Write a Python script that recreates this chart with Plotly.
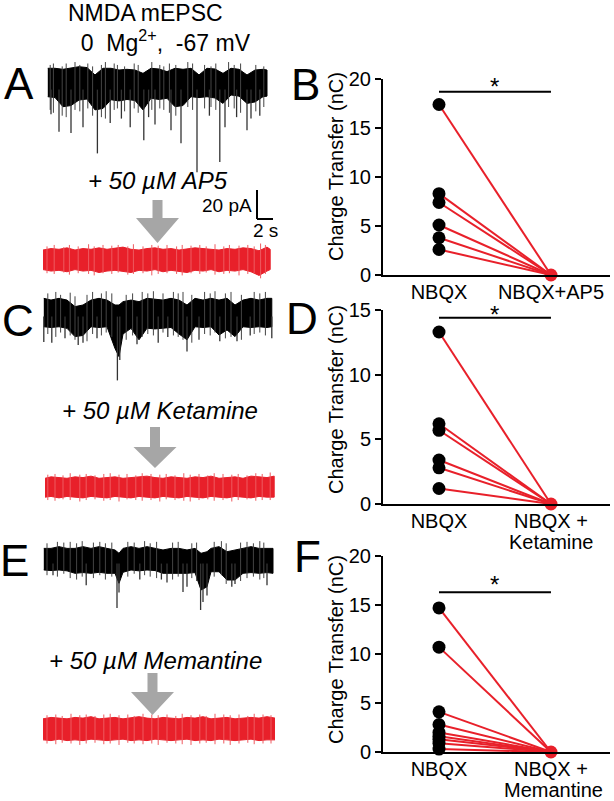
import plotly.graph_objects as go

# ---------------- data ----------------
# Panel traces (time in s, current in pA relative to holding level)
tA = [0.6, 1.5, 2.5, 3.5, 4.5, 5.5, 6.5, 7.5, 8.5, 9.5, 10.5, 11.5, 12.5, 13.5, 14.5,
      15.5, 16.5, 17.5, 18.5, 19.5, 20.5, 21.5, 22.5, 23.5, 24.5, 25.5, 26.5, 27.5, 28.0]
topA = [6.7, 6.7, 6.0, 6.7, 7.8, 7.2, 2.1, 6.7, 6.7, 5.5, 6.0, 5.5, 3.2, 6.7, 6.2,
        4.4, 6.7, 6.0, 6.7, 2.1, 6.7, 6.2, 3.2, 6.7, 6.0, 2.1, 5.5, 6.0, 5.5]
botA = [-12.9, -13.5, -19.8, -19.0, -15.2, -14.5, -22.0, -21.0, -15.0, -15.8, -14.8, -15.5, -22.0, -14.0, -14.8,
        -14.0, -19.8, -19.0, -12.9, -13.5, -12.9, -13.8, -17.5, -11.7, -12.5, -17.5, -16.5, -12.9, -12.5]
spkA_t = [1.0, 2.0, 3.5, 5.0, 6.8, 8.4, 9.8, 10.9, 12.6, 13.2, 14.0, 16.0, 17.25, 19.25, 20.8, 22.1, 22.75, 24.2, 25.5, 26.0, 27.1]
spkA_a = [-25, -37, -38, -34, -52, -31, -28, -34, -43, -27, -32, -36, -45, -65, -26, -58, -34, -27, -36, -28, -26]
frA_t = [0.9, 1.3, 2.4, 2.9, 4.0, 4.6, 5.6, 6.2, 7.3, 7.8, 8.9, 9.3, 10.2, 11.4, 11.9, 13.6,
         14.6, 15.1, 15.8, 16.6, 18.1, 18.7, 20.2, 21.0, 21.6, 23.2, 23.9, 24.7, 26.6, 27.6]
frA_hi = [9, 10, 8, 10, 11, 9, 10, 8, 9, 11, 10, 9, 8, 10, 9, 11,
          9, 8, 10, 9, 11, 10, 9, 8, 10, 11, 9, 10, 9, 8]
frA_lo = [-22, -24, -26, -27, -22, -23, -21, -26, -27, -28, -22, -21, -23, -21, -24, -22,
          -21, -22, -24, -26, -20, -22, -21, -20, -22, -20, -21, -24, -23, -20]

tRA = [0, 1, 2, 3, 4, 5, 6, 7, 8, 9, 10, 11, 12, 13, 14, 15, 16, 17, 18, 19,
       20, 21, 22, 23, 24, 25, 26, 27, 28, 28.4]
topRA = [5.5, 6.5, 6.0, 7.0, 5.5, 6.5, 6.0, 7.0, 6.0, 6.5, 7.5, 6.0, 5.5, 6.5, 7.0,
         6.0, 6.5, 5.5, 6.0, 7.0, 6.5, 6.0, 5.5, 6.5, 6.0, 7.0, 6.5, 5.0, 7.5, 6.0]
botRA = [-8.0, -9.0, -8.5, -9.5, -8.0, -9.0, -8.5, -10.0, -9.0, -8.5, -9.0, -10.0, -8.5, -9.0, -8.0,
         -9.5, -8.5, -9.0, -10.0, -8.5, -9.0, -8.0, -9.5, -8.5, -9.0, -8.0, -9.5, -12.0, -9.0, -8.0]
frRA_t = [0.5, 1.4, 2.6, 3.3, 4.4, 5.7, 6.4, 7.5, 8.6, 9.4, 10.6, 11.3, 12.5, 13.6, 14.4,
          15.5, 16.7, 17.4, 18.5, 19.6, 20.4, 21.5, 22.6, 23.3, 24.5, 25.6, 26.4, 27.2, 27.8]
frRA_hi = [8, 9, 7.5, 9, 8, 9.5, 8, 9, 8.5, 9, 8, 9.5, 8, 9, 8.5,
           9, 8, 9, 8.5, 9, 8, 9.5, 8, 9, 8.5, 9, 8, 10, 9]
frRA_lo = [-10.5, -11, -10, -11.5, -10.5, -11, -12, -10.5, -11, -10, -11.5, -11, -10.5, -12, -11,
           -10.5, -11, -12, -10.5, -11, -10, -11.5, -11, -10.5, -12, -11, -10.5, -14, -11]

tC = [0.1, 1, 2, 3, 4, 5, 6, 7, 8, 9, 9.5, 10, 11, 12, 13, 14, 15, 16, 17, 18,
      19, 20, 21, 22, 23, 24, 25, 26, 27, 28, 28.6]
topC = [4.6, 3.4, 4.6, 3.4, -1.1, 0.0, 3.4, 4.6, 3.4, 0.0, 0.0, 2.3, 3.4, 2.3, 4.6, 4.0,
        3.4, 4.6, 3.4, 0.0, 4.6, 3.4, 4.6, 3.4, 4.6, 0.0, 3.4, 4.6, 3.4, 4.6, 4.6]
botC = [-15.0, -15.5, -15.0, -16.1, -21.8, -21.0, -15.0, -15.5, -15.0, -30.0, -35.6, -20.0, -16.1, -24.0, -16.0, -16.5,
        -16.0, -15.5, -20.0, -24.0, -15.0, -15.5, -15.0, -20.7, -17.2, -21.8, -15.0, -15.5, -15.0, -15.5, -15.0]
spkC_t = [0.1, 1.1, 2.75, 4.4, 5.0, 6.75, 9.3, 9.6, 11.75, 14.4, 15.6, 18.0, 19.5, 22.1, 24.25, 25.9, 28.6]
spkC_a = [-25.5, -26, -23, -27.6, -26, -23, -52, -38, -27, -26, -22, -32, -24, -25, -25, -21, -23]
frC_t = [0.6, 1.6, 2.2, 3.4, 4.0, 5.5, 6.2, 7.3, 7.9, 8.6, 10.4, 11.2, 12.4, 13.1, 13.8,
         15.0, 16.3, 16.9, 17.5, 18.6, 20.2, 20.9, 21.5, 22.8, 23.5, 24.8, 26.4, 27.1, 27.8]
frC_hi = [8, 9, 7, 8.5, 6, 7, 9, 8, 9.5, 8, 7, 8, 9, 8, 9.5,
          8, 9, 8, 9, 7, 9, 8, 9.5, 8, 9, 7, 9, 8, 9]
frC_lo = [-20, -22, -19, -21, -24, -25, -20, -21, -19, -22, -24, -21, -22, -20, -21,
          -19, -21, -22, -24, -26, -20, -21, -19, -23, -22, -24, -20, -19, -21]

tRC = [0.25, 1, 2, 3, 4, 5, 6, 7, 8, 9, 10, 11, 12, 13, 14, 15, 16, 17, 18, 19,
       20, 21, 22, 23, 24, 25, 26, 27, 28, 28.9]
topRC = [6.0, 7.0, 6.5, 6.0, 7.0, 6.5, 7.5, 6.0, 6.5, 7.0, 6.0, 6.5, 7.0, 7.5, 6.5,
         6.0, 7.0, 6.5, 6.0, 7.0, 6.5, 7.5, 6.0, 6.5, 7.0, 6.0, 7.5, 7.0, 6.5, 7.5]
botRC = [-7.0, -6.5, -7.5, -6.5, -7.0, -7.5, -6.5, -7.0, -7.5, -6.5, -7.0, -7.5, -6.5, -7.0, -7.5,
         -6.5, -7.0, -7.5, -6.5, -7.0, -7.5, -6.5, -7.0, -7.5, -6.5, -7.0, -7.5, -6.5, -7.0, -7.0]
frRC_t = [0.6, 1.5, 2.5, 3.4, 4.6, 5.4, 6.5, 7.6, 8.4, 9.5, 10.5, 11.6, 12.4, 13.5, 14.6,
          15.4, 16.5, 17.6, 18.4, 19.5, 20.6, 21.4, 22.5, 23.6, 24.4, 25.5, 26.6, 27.4, 28.4]
frRC_hi = [8.5, 9, 8, 9.5, 8.5, 9, 8, 9, 9.5, 8.5, 9, 8, 9.5, 9, 8.5,
           9, 8, 9.5, 8.5, 9, 8, 9.5, 9, 8.5, 9, 8, 9.5, 9, 10]
frRC_lo = [-9, -9.5, -8.5, -9, -10, -9, -8.5, -9.5, -9, -10, -8.5, -9, -9.5, -9, -10,
           -8.5, -9, -9.5, -10, -9, -8.5, -9.5, -9, -10, -9, -8.5, -9.5, -9, -9]

tE = [0.1, 1, 2, 3, 4, 5, 6, 7, 8, 9, 9.5, 10, 11, 12, 13, 14, 15, 16, 17, 18,
      19, 19.75, 20.5, 21, 22, 23, 24, 25, 26, 27, 28, 28.75]
topE = [2.5, 2.5, 3.7, 2.5, 2.5, 3.7, 2.5, 3.7, 2.5, 1.4, -0.9, 2.5, 3.7, 2.5, 3.7, 2.5,
        1.4, 2.5, 2.5, 1.4, 2.5, -0.9, 0.2, 2.5, 3.7, 0.2, 1.4, 2.5, 3.7, 2.5, 2.5, 2.5]
botE = [-12.4, -12.8, -12.4, -13.0, -14.7, -14.2, -14.7, -14.0, -14.7, -14.7, -21.6, -14.0, -12.4, -13.0, -12.4, -12.8,
        -14.7, -14.2, -14.7, -14.7, -14.2, -26.2, -24.0, -13.6, -13.6, -19.3, -19.3, -14.7, -14.2, -14.7, -14.2, -14.7]
spkE_t = [1.25, 5.4, 9.25, 9.5, 12.1, 14.8, 15.5, 17.5, 18.0, 19.7, 20.0, 20.5, 23.6, 24.0, 28.0]
spkE_a = [-16, -23, -38.6, -28, -19, -19, -21, -27.6, -24, -40, -34.5, -30, -24, -22, -23]
frE_t = [0.5, 1.8, 2.6, 3.4, 4.2, 4.9, 6.3, 7.1, 7.8, 8.6, 10.6, 11.4, 12.7, 13.4, 14.2,
         16.2, 16.9, 18.6, 19.2, 21.4, 22.3, 22.9, 24.7, 25.5, 26.3, 27.1, 27.6]
frE_hi = [6, 7, 6.5, 7, 6, 7.5, 6.5, 7, 6, 6.5, 7, 6.5, 7.5, 6, 7,
          6.5, 7, 6, 6.5, 7, 7.5, 6, 6.5, 7, 6, 7.5, 6.5]
frE_lo = [-16, -17, -15, -18, -19, -17, -18, -16, -19, -17, -17, -15, -16, -17, -18,
          -19, -17, -18, -20, -17, -16, -22, -20, -18, -17, -19, -18]

tRE = [0, 1, 2, 3, 4, 5, 6, 7, 8, 9, 10, 11, 12, 13, 14, 15, 16, 17, 18, 19,
       20, 21, 22, 23, 24, 25, 26, 27, 28, 29]
topRE = [7.0, 8.0, 7.5, 7.0, 8.0, 7.5, 8.5, 7.0, 7.5, 8.0, 7.0, 7.5, 8.5, 7.5, 7.0,
         8.0, 7.5, 7.0, 8.0, 7.5, 8.5, 7.0, 7.5, 8.0, 7.0, 7.5, 8.0, 7.5, 8.5, 7.5]
botRE = [-7.5, -8.0, -7.0, -8.0, -7.5, -8.0, -7.0, -7.5, -8.0, -7.5, -7.0, -8.0, -7.5, -8.0, -7.0,
         -7.5, -8.0, -7.5, -7.0, -8.0, -7.5, -8.0, -7.0, -7.5, -8.0, -7.5, -7.0, -8.0, -7.5, -7.5]
frRE_t = [0.5, 1.6, 2.4, 3.5, 4.6, 5.4, 6.5, 7.6, 8.4, 9.5, 10.6, 11.4, 12.5, 13.6, 14.4,
          15.5, 16.6, 17.4, 18.5, 19.6, 20.4, 21.5, 22.6, 23.4, 24.5, 25.6, 26.4, 27.5, 28.5]
frRE_hi = [9.5, 10, 9, 10.5, 9.5, 10, 9, 10, 10.5, 9.5, 10, 9, 10.5, 10, 9.5,
           10, 9, 10.5, 9.5, 10, 9, 10.5, 10, 9.5, 10, 9, 10.5, 10, 9.5]
frRE_lo = [-10, -10.5, -9.5, -10, -11, -10, -9.5, -10.5, -10, -11, -9.5, -10, -10.5, -10, -11,
           -9.5, -10, -10.5, -11, -10, -9.5, -10.5, -10, -11, -10, -9.5, -10.5, -10, -10]

# Charge transfer (nC)
B_nbqx = [17.4, 8.3, 7.4, 5.1, 3.8, 2.6]
B_drug = [0, 0, 0, 0, 0, 0]
D_nbqx = [13.3, 6.2, 5.7, 3.4, 2.8, 1.2]
D_drug = [0, 0, 0, 0, 0, 0]
F_nbqx = [14.7, 10.7, 4.1, 2.8, 2.0, 1.6, 1.3, 0.9, 0.3]
F_drug = [0, 0, 0, 0, 0, 0, 0, 0, 0]

cond_B = ["NBQX", "NBQX+AP5"]
cond_D = ["NBQX", "NBQX +"]
cond_F = ["NBQX", "NBQX +"]
drug_D = "Ketamine"
drug_F = "Memantine"
yticks_B = [0, 5, 10, 15, 20]
yticks_D = [0, 5, 10, 15]
yticks_F = [0, 5, 10, 15, 20]

# ---------------- styling / layout ----------------
W, H = 614, 801
RED = "#e8202a"
BLACK = "#000000"
GRAY = "#a6a6a6"
FONT = "Liberation Sans, Arial, sans-serif"
PX_PER_PA = 1.45


def fx(px):
    return px / W


def fy(py):
    return 1 - py / H


fig = go.Figure()
layout = dict(width=W, height=H, margin=dict(l=0, r=0, t=0, b=0, pad=0),
              paper_bgcolor="white", plot_bgcolor="rgba(0,0,0,0)",
              showlegend=False, font=dict(family=FONT, color="black"))

# trace axes: (index, top px, bottom px, baseline px)
trace_axes = [(1, 55, 180, 78), (2, 180, 285, 258), (3, 285, 400, 305),
              (4, 400, 510, 487), (5, 535, 630, 552), (6, 630, 760, 729)]
for i, top, bot, y0 in trace_axes:
    xn = "xaxis" if i == 1 else f"xaxis{i}"
    yn = "yaxis" if i == 1 else f"yaxis{i}"
    layout[xn] = dict(domain=[fx(43), fx(275)], range=[0, 29], visible=False, automargin=False,
                      anchor=f"y{i}" if i > 1 else "y", fixedrange=True)
    layout[yn] = dict(domain=[fy(bot), fy(top)], automargin=False,
                      range=[-(bot - y0) / PX_PER_PA, (y0 - top) / PX_PER_PA],
                      visible=False, anchor=f"x{i}" if i > 1 else "x", fixedrange=True)


def ax(i):
    return ("x" if i == 1 else f"x{i}"), ("y" if i == 1 else f"y{i}")


def band(i, t, top, bot, color):
    xa, ya = ax(i)
    fig.add_trace(go.Scatter(x=t + t[::-1], y=top + bot[::-1], fill="toself",
                             fillcolor=color, mode="lines",
                             line=dict(color=color, width=1),
                             xaxis=xa, yaxis=ya, hoverinfo="skip"))


def segs(i, ts, his, los, color, width):
    xa, ya = ax(i)
    xs, ys = [], []
    for t, h, l in zip(ts, his, los):
        xs += [t, t, None]
        ys += [h, l, None]
    fig.add_trace(go.Scatter(x=xs, y=ys, mode="lines",
                             line=dict(color=color, width=width),
                             xaxis=xa, yaxis=ya, hoverinfo="skip"))


band(1, tA, topA, botA, BLACK)
segs(1, frA_t, frA_hi, frA_lo, "#444444", 1)
segs(1, spkA_t, [-8] * len(spkA_t), spkA_a, "#333333", 1.3)
band(2, tRA, topRA, botRA, RED)
segs(2, frRA_t, frRA_hi, frRA_lo, "#ee5a60", 1)
band(3, tC, topC, botC, BLACK)
segs(3, frC_t, frC_hi, frC_lo, "#444444", 1)
segs(3, spkC_t, [-8] * len(spkC_t), spkC_a, "#333333", 1.3)
band(4, tRC, topRC, botRC, RED)
segs(4, frRC_t, frRC_hi, frRC_lo, "#ee5a60", 1)
band(5, tE, topE, botE, BLACK)
segs(5, frE_t, frE_hi, frE_lo, "#444444", 1)
segs(5, spkE_t, [-8] * len(spkE_t), spkE_a, "#333333", 1.3)
band(6, tRE, topRE, botRE, RED)
segs(6, frRE_t, frRE_hi, frRE_lo, "#ee5a60", 1)

shapes = []
# scale bar (20 pA, 2 s) in red-A trace axis
shapes.append(dict(type="line", xref="x2", yref="y2", x0=26.75, x1=26.75, y0=26.9, y1=26.9 + 20,
                   line=dict(color="black", width=2)))
shapes.append(dict(type="line", xref="x2", yref="y2", x0=26.75, x1=26.75 + 2, y0=26.9, y1=26.9,
                   line=dict(color="black", width=2)))


def P(x, y):
    return f"{fx(x):.5f},{fy(y):.5f}"


def arrow(cx, top, neck, tip, sh=5, hh=21.5):
    path = ("M " + P(cx - sh, top) + " L " + P(cx + sh, top) + " L " + P(cx + sh, neck) +
            " L " + P(cx + hh, neck) + " L " + P(cx, tip) + " L " + P(cx - hh, neck) +
            " L " + P(cx - sh, neck) + " Z")
    shapes.append(dict(type="path", xref="paper", yref="paper", path=path,
                       fillcolor=GRAY, line=dict(color=GRAY, width=0)))


arrow(157.5, 200, 218, 243)
arrow(155, 427, 447, 468)
arrow(152.5, 673, 692, 715)

# scatter panels
panels = [(7, 79, 275, 20, B_nbqx, B_drug, cond_B, yticks_B, 18.7),
          (8, 310, 504, 15, D_nbqx, D_drug, cond_D, yticks_D, 14.4),
          (9, 556, 752, 20, F_nbqx, F_drug, cond_F, yticks_F, 16.3)]
for i, top, bot, ymax, pre, post, cats, yt, sig in panels:
    layout[f"xaxis{i}"] = dict(domain=[fx(383), fx(610)], range=[-0.5, 1.527], automargin=False,
                               anchor=f"y{i}", showline=True, linecolor="black", linewidth=2,
                               ticks="", tickvals=[0, 1], ticktext=cats, showgrid=False,
                               zeroline=False, ticklabelstandoff=-2,
                               tickfont=dict(size=20, family=FONT, color="black"), fixedrange=True)
    layout[f"yaxis{i}"] = dict(domain=[fy(bot), fy(top)], range=[0, ymax], automargin=False,
                               anchor=f"x{i}", showline=True, linecolor="black", linewidth=2,
                               ticks="outside", ticklen=6, tickwidth=1.5, tickcolor="black",
                               tickvals=yt, showgrid=False, zeroline=False,
                               tickfont=dict(size=20, family=FONT, color="black"), fixedrange=True)
    xs, ys = [], []
    for a, b in zip(pre, post):
        xs += [0, 1, None]
        ys += [a, b, None]
    fig.add_trace(go.Scatter(x=xs, y=ys, mode="lines", line=dict(color=RED, width=2),
                             xaxis=f"x{i}", yaxis=f"y{i}", cliponaxis=False, hoverinfo="skip"))
    fig.add_trace(go.Scatter(x=[0] * len(pre), y=pre, mode="markers",
                             marker=dict(color=BLACK, size=13, line=dict(width=0)),
                             xaxis=f"x{i}", yaxis=f"y{i}", cliponaxis=False))
    fig.add_trace(go.Scatter(x=[1], y=[post[0]], mode="markers",
                             marker=dict(color=RED, size=13, line=dict(width=0)),
                             xaxis=f"x{i}", yaxis=f"y{i}", cliponaxis=False))
    shapes.append(dict(type="line", xref=f"x{i}", yref=f"y{i}", x0=0, x1=1, y0=sig, y1=sig,
                       line=dict(color="black", width=1.8)))

annotations = []


def txt(x, y, s, size, italic=False, xanchor="center", angle=0, align="center"):
    annotations.append(dict(xref="paper", yref="paper", x=fx(x), y=fy(y), text=s,
                            showarrow=False, xanchor=xanchor, yanchor="middle",
                            textangle=angle, align=align,
                            font=dict(size=size, family=FONT, color="black",
                                      style="italic" if italic else "normal")))


# panel letters
for L, x, y in [("A", 19, 83), ("B", 305, 84), ("C", 18, 320),
                ("D", 302, 318), ("E", 14, 560), ("F", 307, 556)]:
    txt(x, y, L, 44)

# two-line header (left-aligned block, as in the reference)
txt(66, 28, "NMDA mEPSC<br>\u00a0 0\u00a0 Mg<sup>2+</sup>,\u00a0 -67 mV", 23,
    xanchor="left", align="left")
txt(158, 180, "+ 50 µM AP5", 24, italic=True)
txt(160, 410, "+ 50 µM Ketamine", 24, italic=True)
txt(155, 660, "+ 50 µM Memantine", 24, italic=True)
txt(254, 206, "20 pA", 19, xanchor="right")
txt(265.5, 230, "2 s", 19)

# second line of the drug tick labels
txt(551, 542, drug_D, 20)
txt(553, 790, drug_F, 20)

# stars
txt(494, 86.5, "*", 24)
txt(494, 314, "*", 24)
txt(494, 584, "*", 24)

# y titles
for yc in [167, 400, 650]:
    txt(336, yc, "Charge Transfer (nC)", 20, angle=-90)

layout["shapes"] = shapes
layout["annotations"] = annotations
fig.update_layout(**layout)
fig.write_html("out.html", config={"displayModeBar": False},
               post_script="document.documentElement.style.margin='0';"
                           "document.body.style.margin='0';"
                           "document.body.style.overflow='hidden';")
